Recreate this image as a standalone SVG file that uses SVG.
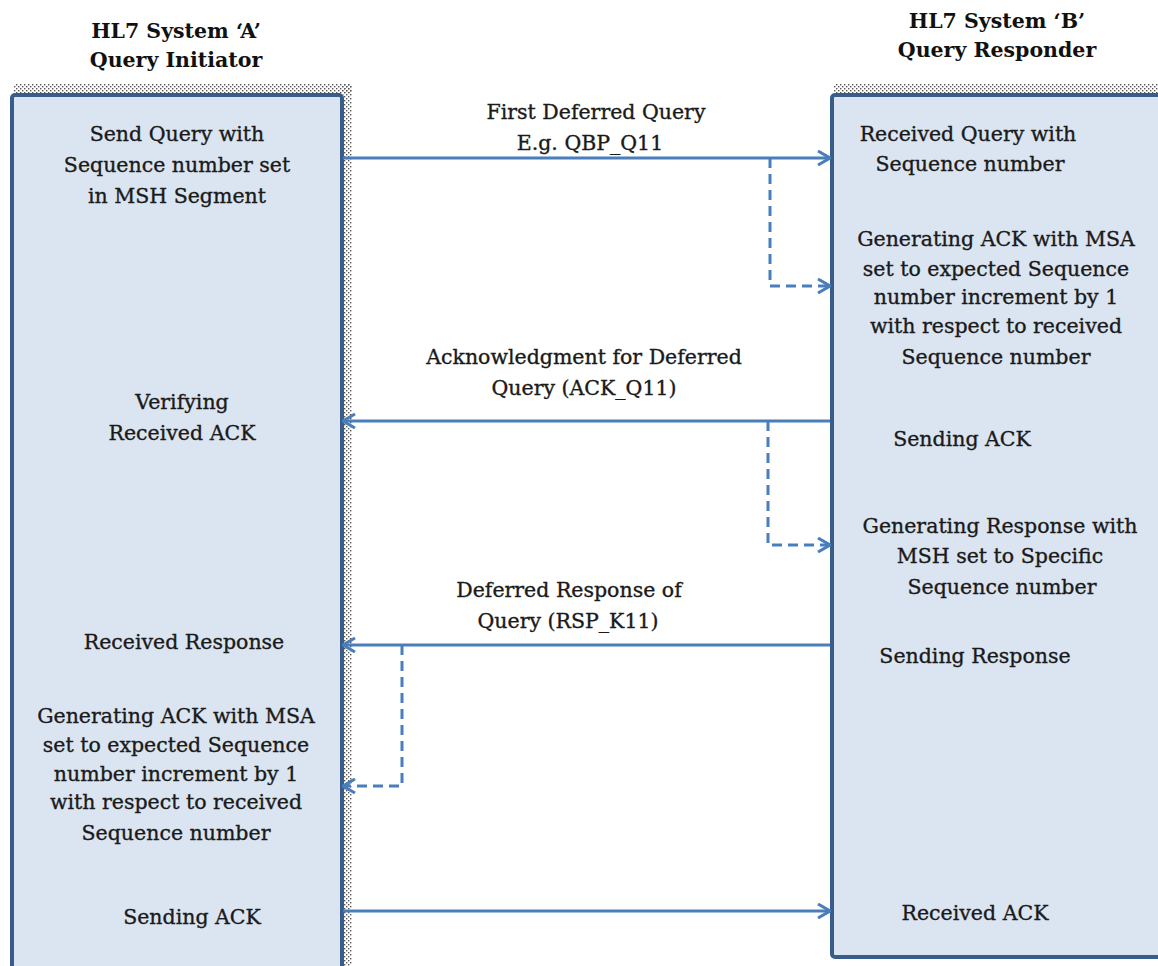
<svg xmlns="http://www.w3.org/2000/svg" width="1158" height="966" viewBox="0 0 1158 966">
  <defs>
    <!-- stippled shadow texture along the lane edges -->
    <pattern id="stipple" width="4" height="4" patternUnits="userSpaceOnUse">
      <rect x="0" y="0" width="1.4" height="1.4" fill="#555"/>
      <rect x="2" y="2" width="1.4" height="1.4" fill="#555"/>
    </pattern>
    <marker id="open" viewBox="0 0 14 16" refX="13" refY="8" markerWidth="14" markerHeight="16" markerUnits="userSpaceOnUse" orient="auto">
      <path d="M1,1 L13,8 L1,15" fill="none" stroke="#4A7EBB" stroke-width="3"/>
    </marker>
    <style>
      .lane { fill: #DBE5F1; stroke: #385D8A; stroke-width: 4; }
      .shadow { fill: url(#stipple); }
      .t { font-family: "DejaVu Serif", "Liberation Serif", serif; font-size: 20.5px; fill: #1a1a1a; stroke: #1a1a1a; stroke-width: 0.35; text-anchor: middle; }
      .h { font-family: "DejaVu Serif", "Liberation Serif", serif; font-size: 20.5px; font-weight: bold; fill: #111; text-anchor: middle; }
      .msg { fill: none; stroke: #4A7EBB; stroke-width: 3; marker-end: url(#open); }
      .dash { fill: none; stroke: #4A7EBB; stroke-width: 3; stroke-dasharray: 10 6; marker-end: url(#open); }
    </style>
  </defs>

  <rect width="1158" height="966" fill="#ffffff"/>

  <!-- System A lane -->
  <g id="system-a">
    <text class="h" x="176" y="38">HL7 System ‘A’</text>
    <text class="h" x="176" y="67">Query Initiator</text>
    <rect class="shadow" x="14" y="84" width="338" height="9"/>
    <rect class="shadow" x="343" y="84" width="9" height="882"/>
    <rect class="lane" x="12" y="95" width="330" height="900" rx="3"/>
    <text class="t" x="177" y="141">Send Query with</text>
    <text class="t" x="177" y="172">Sequence number set</text>
    <text class="t" x="177" y="203">in MSH Segment</text>
    <text class="t" x="182" y="409">Verifying</text>
    <text class="t" x="182" y="440">Received ACK</text>
    <text class="t" x="184" y="649">Received Response</text>
    <text class="t" x="176" y="723">Generating ACK with MSA</text>
    <text class="t" x="176" y="752">set to expected Sequence</text>
    <text class="t" x="176" y="781">number increment by 1</text>
    <text class="t" x="176" y="809">with respect to received</text>
    <text class="t" x="176" y="840">Sequence number</text>
    <text class="t" x="192" y="924">Sending ACK</text>
  </g>

  <!-- System B lane -->
  <g id="system-b">
    <text class="h" x="997" y="28">HL7 System ‘B’</text>
    <text class="h" x="997" y="57">Query Responder</text>
    <rect class="shadow" x="834" y="84" width="324" height="9"/>
    <rect class="lane" x="832" y="95" width="360" height="862" rx="3"/>
    <text class="t" x="968" y="141">Received Query with</text>
    <text class="t" x="970" y="171">Sequence number</text>
    <text class="t" x="996" y="246">Generating ACK with MSA</text>
    <text class="t" x="996" y="276">set to expected Sequence</text>
    <text class="t" x="996" y="304">number increment by 1</text>
    <text class="t" x="996" y="333">with respect to received</text>
    <text class="t" x="996" y="364">Sequence number</text>
    <text class="t" x="962" y="446">Sending ACK</text>
    <text class="t" x="1000" y="533">Generating Response with</text>
    <text class="t" x="1000" y="563">MSH set to Specific</text>
    <text class="t" x="1002" y="594">Sequence number</text>
    <text class="t" x="975" y="663">Sending Response</text>
    <text class="t" x="975" y="920">Received ACK</text>
  </g>

  <!-- Messages between the systems -->
  <g id="connectors">
    <path class="msg" d="M343,158 L830,158"/>
    <path class="dash" d="M770,158 L770,286 L830,286"/>
    <text class="t" x="596" y="119">First Deferred Query</text>
    <text class="t" x="590" y="150">E.g. QBP_Q11</text>

    <path class="msg" d="M830,421 L343,421"/>
    <path class="dash" d="M768,421 L768,545 L830,545"/>
    <text class="t" x="584" y="364">Acknowledgment for Deferred</text>
    <text class="t" x="584" y="395">Query (ACK_Q11)</text>

    <path class="msg" d="M830,645 L343,645"/>
    <path class="dash" d="M402,645 L402,786 L343,786"/>
    <text class="t" x="569" y="597">Deferred Response  of</text>
    <text class="t" x="568" y="628">Query (RSP_K11)</text>

    <path class="msg" d="M343,911 L830,911"/>
  </g>
</svg>
